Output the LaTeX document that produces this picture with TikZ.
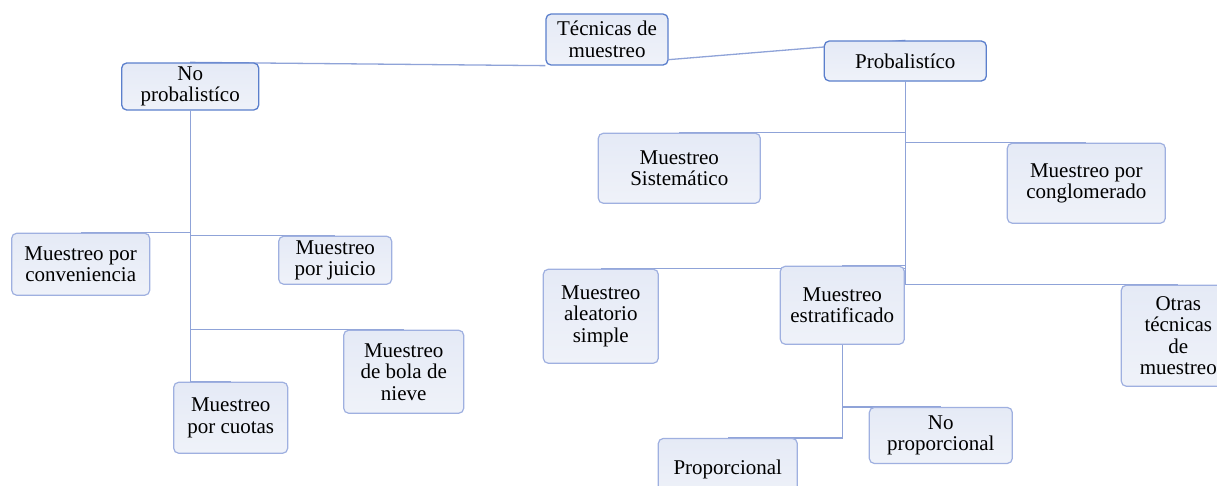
\documentclass[tikz,border=0pt]{standalone}
\usepackage{fontspec}
\setmainfont{Liberation Serif}
\usepackage{xcolor}
\usepackage{tikz}
\usetikzlibrary{positioning,backgrounds}

\definecolor{boxtop}{HTML}{E5EAF6}
\definecolor{boxbot}{HTML}{EFF2F9}
\definecolor{mainline}{HTML}{5B7FCC}
\definecolor{leafline}{HTML}{9FB0E0}
\definecolor{linkcol}{HTML}{8FA3D8}

\begin{document}
\begin{tikzpicture}[
        every node/.style={draw=leafline,top color=boxtop,bottom color=boxbot,rounded corners=5pt,line width=1.2pt,align=center,inner sep=2pt,font=\fontsize{21}{21.5}\selectfont},
        main/.style={draw=mainline,line width=1.3pt},
        link/.style={draw=linkcol,line width=1.3pt},
        ]
      \useasboundingbox (0,0) rectangle (1217pt,-485pt);
      \node [main, minimum width=122pt, minimum height=51pt] (tecnicas) at (607pt,-39.5pt) {Técnicas de\\muestreo};
      \node [main, minimum width=162pt, minimum height=40pt, right=155pt of tecnicas, yshift=-21.5pt] (prob) {Probalistíco};
      \node [main, minimum width=137pt, minimum height=47pt, left=286pt of tecnicas, yshift=-47pt] (noprob) {No\\probalistíco};

      \node [minimum width=162pt, minimum height=70pt, below=51pt of prob, xshift=-226pt] (sistematico) {Muestreo\\Sistemático};
      \node [minimum width=158pt, minimum height=80pt, below=61pt of prob, xshift=181pt] (conglomerado) {Muestreo por\\conglomerado};
      \node [minimum width=115pt, minimum height=94pt, below=187pt of prob, xshift=-304.5pt] (aleatorio) {Muestreo\\aleatorio\\simple};
      \node [minimum width=124pt, minimum height=78pt, below=184pt of prob, xshift=-63pt] (estratificado) {Muestreo\\estratificado};
      \node [minimum width=114pt, minimum height=101pt, below=203pt of prob, xshift=273pt] (otras) {Otras\\técnicas\\de\\muestreo};

      \node [minimum width=143pt, minimum height=56pt, below=62pt of estratificado, xshift=98.5pt] (noproporcional) {No\\proporcional};
      \node [minimum width=139pt, minimum height=62pt, below=93pt of estratificado, xshift=-114.5pt] (proporcional) {Proporcional};

      \node [minimum width=138pt, minimum height=62pt, below=122pt of noprob, xshift=-109.5pt] (conveniencia) {Muestreo por\\conveniencia};
      \node [minimum width=113pt, minimum height=48pt, below=125pt of noprob, xshift=145pt] (juicio) {Muestreo\\por juicio};
      \node [minimum width=120pt, minimum height=83pt, below=219pt of noprob, xshift=213.5pt] (bola) {Muestreo\\de bola de\\nieve};
      \node [minimum width=114pt, minimum height=71pt, below=271pt of noprob, xshift=40.5pt] (cuotas) {Muestreo\\por cuotas};

      \begin{scope}[on background layer]
      \draw[link] ([yshift=6pt]tecnicas.south east) -- (prob.north);
      \draw[link] (tecnicas.south west) -- (noprob.north);
      \draw[link] (prob.south) |- (sistematico.north);
      \draw[link] (prob.south) |- (conglomerado.north);
      \draw[link] (prob.south) |- (aleatorio.north);
      \draw[link] (prob.south) |- (estratificado.north);
      \draw[link] (prob.south) |- (otras.north);
      \draw[link] (estratificado.south) |- (noproporcional.north);
      \draw[link] (estratificado.south) |- (proporcional.north);
      \draw[link] (noprob.south) |- (conveniencia.north);
      \draw[link] (noprob.south) |- (juicio.north);
      \draw[link] (noprob.south) |- (bola.north);
      \draw[link] (noprob.south) |- (cuotas.north);
      \end{scope}
    \end{tikzpicture}
\end{document}
